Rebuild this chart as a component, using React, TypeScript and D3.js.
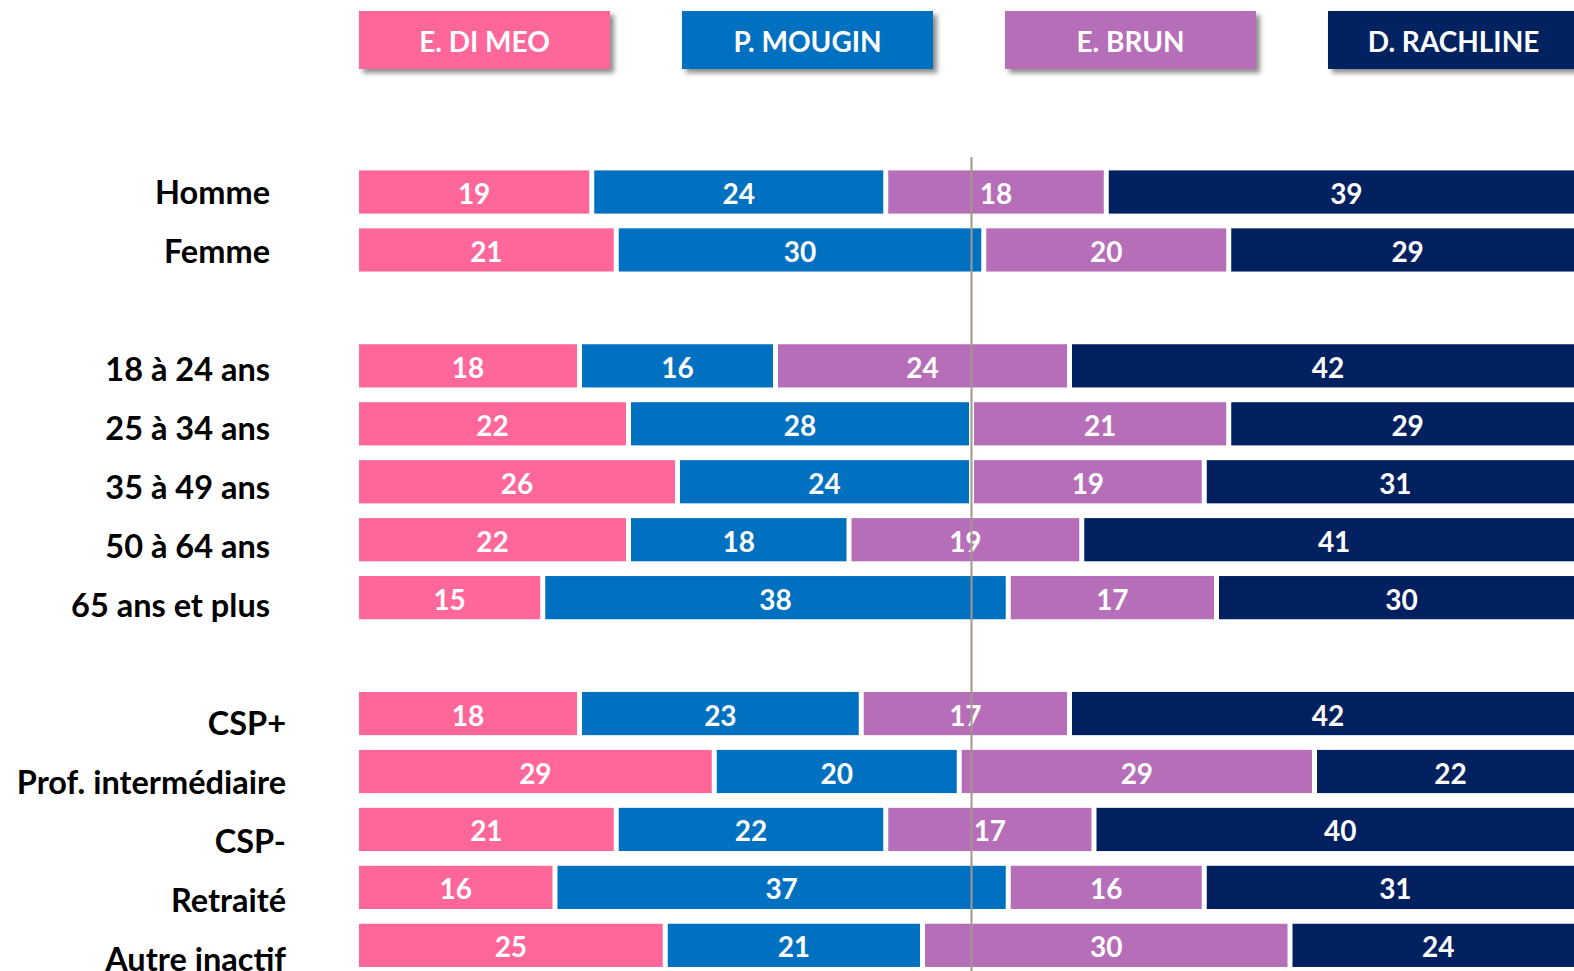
import * as d3 from "d3"

const candidates = ["E. DI MEO", "P. MOUGIN", "E. BRUN", "D. RACHLINE"]
const colors = ["#FF6699", "#0070C0", "#B76EB8", "#002060"]

const categories = [
  "Homme",
  "Femme",
  "18 à 24 ans",
  "25 à 34 ans",
  "35 à 49 ans",
  "50 à 64 ans",
  "65 ans et plus",
  "CSP+",
  "Prof. intermédiaire",
  "CSP-",
  "Retraité",
  "Autre inactif",
]
// group of each category (sexe, âge, CSP)
const groupOf = [0, 0, 1, 1, 1, 1, 1, 2, 2, 2, 2, 2]

const diMeo = [19, 21, 18, 22, 26, 22, 15, 18, 29, 21, 16, 25]
const mougin = [24, 30, 16, 28, 24, 18, 38, 23, 20, 22, 37, 21]
const brun = [18, 20, 24, 21, 19, 19, 17, 17, 29, 17, 16, 30]
const rachline = [39, 29, 42, 29, 31, 41, 30, 42, 22, 40, 31, 24]

const series = [diMeo, mougin, brun, rachline]

const W = 1574
const H = 971
const FONT = "Lato, 'Open Sans', sans-serif"

export default function App() {
  // one empty row between groups
  const slots = categories.map((_, i) => i + groupOf[i])
  const nSlots = d3.max(slots)! + 1

  const x = d3.scaleLinear().domain([0, 100]).range([359, 1584])
  const barH = 43.2
  const step = 57.95
  const top = 192 - barH / 2
  const y = d3
    .scaleBand<number>()
    .domain(d3.range(nSlots))
    .range([top, top + (nSlots - 1) * step + barH])
    .paddingInner(1 - barH / step)
    .paddingOuter(0)

  // category text column is spaced a little wider than the bars
  const yLabel = d3.scaleLinear().domain([0, nSlots - 1]).range([192, 192 + (nSlots - 1) * 59])

  const stack = d3
    .stack<number, string>()
    .keys(candidates)
    .value((i, key) => series[candidates.indexOf(key)][i])
  const stacked = stack(d3.range(categories.length))

  const legendX = d3
    .scaleBand<string>()
    .domain(candidates)
    .range([359, 359 + 323 * 3 + 251])
    .paddingInner(72 / 323)
    .paddingOuter(0)
  const gap = 2.5

  return (
    <div style={{ position: "fixed", left: 0, top: 0 }}>
      <svg width={W} height={H} style={{ display: "block", background: "#fff" }}>
        <defs>
          <filter id="shadow" x="-10%" y="-20%" width="130%" height="160%">
            <feDropShadow dx="4" dy="4" stdDeviation="2.5" floodColor="#000" floodOpacity="0.45" />
          </filter>
        </defs>

        {/* legend boxes */}
        {candidates.map((c, i) => (
          <g key={c}>
            <rect
              x={legendX(c)}
              y={11}
              width={legendX.bandwidth()}
              height={58}
              fill={colors[i]}
              filter="url(#shadow)"
            />
            <text
              x={legendX(c)! + legendX.bandwidth() / 2}
              y={41}
              textAnchor="middle"
              dominantBaseline="central"
              fill="#fff"
              fontFamily={FONT}
              fontWeight={700}
              fontSize={28}
            >
              {c}
            </text>
          </g>
        ))}

        {/* category labels */}
        {categories.map((c, i) => (
          <text
            key={c}
            x={groupOf[i] === 2 ? 286 : 270}
            y={yLabel(slots[i]) + 12}
            textAnchor="end"
            fill="#000"
            fontFamily={FONT}
            fontWeight={700}
            fontSize={32.5}
          >
            {c}
          </text>
        ))}

        {/* stacked bars */}
        {stacked.map((layer, k) => (
          <g key={layer.key}>
            {layer.map((d, i) => {
              const x0 = x(d[0]) + (d[0] > 0 ? gap : 0)
              const x1 = x(d[1]) - (d[1] < 100 ? gap : 0)
              const yy = y(slots[i])!
              return (
                <g key={i}>
                  <rect x={x0} y={yy} width={x1 - x0} height={y.bandwidth()} fill={colors[k]} />
                  <text
                    x={(x0 + Math.min(x1, x(100))) / 2}
                    y={yy + y.bandwidth() / 2 + 1}
                    textAnchor="middle"
                    dominantBaseline="central"
                    fill="#fff"
                    fontFamily={FONT}
                    fontWeight={700}
                    fontSize={28}
                  >
                    {series[k][i]}
                  </text>
                </g>
              )
            })}
          </g>
        ))}

        {/* 50% reference line */}
        <line x1={x(50)} x2={x(50)} y1={157} y2={H} stroke="#A3988C" strokeWidth={2} />
      </svg>
    </div>
  )
}
